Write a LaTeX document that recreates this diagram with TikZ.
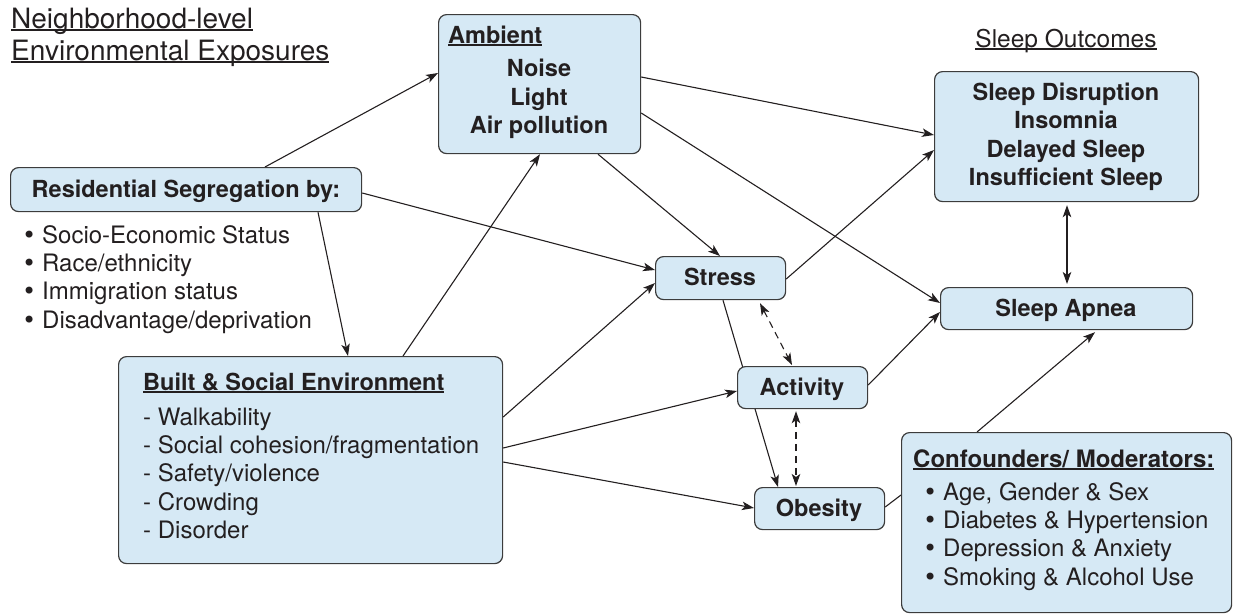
\documentclass[tikz,border=0pt]{standalone}
\usepackage{fontspec}
\setmainfont{TeX Gyre Heros}
\newfontfamily\dvfont{DejaVu Sans}
\usetikzlibrary{arrows.meta,backgrounds}
\definecolor{boxfill}{RGB}{214,233,245}
\definecolor{boxline}{RGB}{60,60,60}
\definecolor{ink}{RGB}{35,31,32}
\newcommand\myul[1]{\setbox0\hbox{#1}\rlap{\rule[-0.11em]{\wd0}{0.06em}}\box0}
\newcommand\bul[1]{\makebox[#1][l]{{\dvfont •}}}
\begin{document}
\begin{tikzpicture}[x=1pt,y=-1pt,
 box/.style={draw=boxline, fill=boxfill, line width=1.2pt, rounded corners=8pt, anchor=north west, inner sep=0pt},
 lbl/.style={anchor=base west, inner sep=0pt, text=ink, font=\fontsize{24}{28}\selectfont},
 lst/.style={anchor=north west, inner sep=0pt, text=ink, align=left, font=\fontsize{24}{28.4}\selectfont},
 blbl/.style={anchor=base west, inner sep=0pt, text=ink, font=\fontsize{23.5}{28}\selectfont\bfseries},
 cbl/.style={blbl, anchor=base},
 head/.style={anchor=base west, inner sep=0pt, text=ink, font=\fontsize{28}{30}\selectfont},
 conn/.style={draw=ink, line width=1.1pt},
 arr/.style={conn, -{Stealth[length=12pt,width=8.5pt,inset=3pt]}},
 barr/.style={conn, {Stealth[length=12pt,width=8.5pt,inset=3pt]}-{Stealth[length=12pt,width=8.5pt,inset=3pt]}},
 darr/.style={barr, dash pattern=on 7pt off 5pt}
]
\useasboundingbox (0,0) rectangle (1233,613);

% boxes
\node[box, minimum width=202pt, minimum height=139pt] (amb) at (438,14) {};
\node[box, minimum width=351pt, minimum height=44pt] (res) at (10,167) {};
\node[box, minimum width=384pt, minimum height=207pt] (built) at (118,356) {};
\node[box, minimum width=130pt, minimum height=43pt] (stress) at (655,256) {};
\node[box, minimum width=130pt, minimum height=42pt] (act) at (737,366) {};
\node[box, minimum width=130pt, minimum height=42pt] (obe) at (754,487) {};
\node[box, minimum width=264pt, minimum height=130pt] (sd) at (934,71) {};
\node[box, minimum width=252pt, minimum height=42pt] (sa) at (940,287) {};
\node[box, minimum width=330pt, minimum height=180pt] (conf) at (901,432) {};

% headings
\node[head] (h1) at (11,28) {\myul{Neighborhood-level}};
\node[head] (h2) at (11,60) {\myul{Environmental Exposures}};
\node[anchor=base, inner sep=0pt, text=ink, font=\fontsize{24.5}{28}\selectfont] (so) at (1066,47) {\myul{Sleep Outcomes}};

% ambient
\node[blbl] (ambt) at (448,43) {\myul{Ambient}};
\node[cbl] (amb1) at (539,76) {Noise};
\node[cbl] (amb2) at (539,105) {Light};
\node[cbl] (amb3) at (539,133) {Air pollution};

% residential
\node[cbl] (rest) at (186,197) {Residential Segregation by:};
\node[lst] (reslist) at (22,223.1) {\strut\bul{20pt}Socio-Economic Status\\
 \bul{20pt}Race/ethnicity\\
 \bul{20pt}Immigration status\\
 \bul{20pt}Disadvantage/deprivation};

% built
\node[blbl] (bt) at (143,390) {\myul{Built \& Social Environment}};
\node[lst] (blist) at (143,405.1) {\strut- Walkability\\
 - Social cohesion/fragmentation\\
 - Safety/violence\\
 - Crowding\\
 - Disorder};

% small boxes text
\node[cbl] (stt) at (720,285) {Stress};
\node[cbl] (actt) at (802,395) {Activity};
\node[cbl] (obt) at (819,516) {Obesity};
\node[cbl] (sat) at (1066,316) {Sleep Apnea};

% sleep outcomes
\node[cbl] (sd1) at (1066,100) {Sleep Disruption};
\node[cbl] (sd2) at (1066,128) {Insomnia};
\node[cbl] (sd3) at (1066,157) {Delayed Sleep};
\node[cbl] (sd4) at (1066,185) {Insufficient Sleep};

% confounders
\node[blbl, font=\fontsize{24}{28}\selectfont\bfseries] (ct) at (913,467) {\myul{Confounders/ Moderators:}};
\node[lst] (clist) at (923,480.1) {\strut\bul{20pt}Age, Gender \& Sex\\
 \bul{20pt}Diabetes \& Hypertension\\
 \bul{20pt}Depression \& Anxiety\\
 \bul{20pt}Smoking \& Alcohol Use};

\begin{scope}[on background layer]
\draw[arr] ([xshift=255pt]res.north west) -- ([yshift=-59pt]amb.north west);
\draw[arr] ([yshift=-26pt]res.north east) -- ([yshift=-14pt]stress.north west);
\draw[arr] ([xshift=308pt]res.south west) -- ([xshift=230pt]built.north west);
\draw[arr] ([xshift=285pt]built.north west) -- ([xshift=102pt]amb.south west);
\draw[arr] ([yshift=-61pt]built.north east) -- ([yshift=-27pt]stress.north west);
\draw[arr] ([yshift=-92pt]built.north east) -- ([yshift=-25pt]act.north west);
\draw[arr] ([yshift=-106pt]built.north east) -- ([yshift=-21pt]obe.north west);
\draw[arr] ([xshift=160pt]amb.south west) -- ([xshift=65pt]stress.north west);
\draw[arr] ([yshift=-63pt]amb.north east) -- ([yshift=-64pt]sd.north west);
\draw[arr] ([yshift=-99pt]amb.north east) -- ([yshift=-16pt]sa.north west);
\draw[arr] ([yshift=-23pt]stress.north east) -- ([yshift=-79pt]sd.north west);
\draw[arr] ([xshift=68pt]stress.south west) -- ([xshift=24pt]obe.north west);
\draw[darr] ([xshift=105pt,yshift=-3pt]stress.south west) -- ([xshift=55pt,yshift=1pt]act.north west);
\draw[darr] ([xshift=59pt,yshift=-2pt]act.south west) -- ([xshift=59pt,yshift=1pt]act.south west |- obe.north);
\draw[arr] ([yshift=-19pt]act.north east) -- ([yshift=-25pt]sa.north west);
\draw[barr] ([xshift=133pt,yshift=-3pt]sd.south west) -- ([xshift=127pt,yshift=3pt]sa.north west);
\draw[conn] ([yshift=-20pt]obe.north east) -- ([yshift=-63pt]conf.north west);
\draw[arr] ([xshift=76pt]conf.north west) -- ([xshift=155pt,yshift=-2pt]sa.south west);
\end{scope}
\end{tikzpicture}
\end{document}
